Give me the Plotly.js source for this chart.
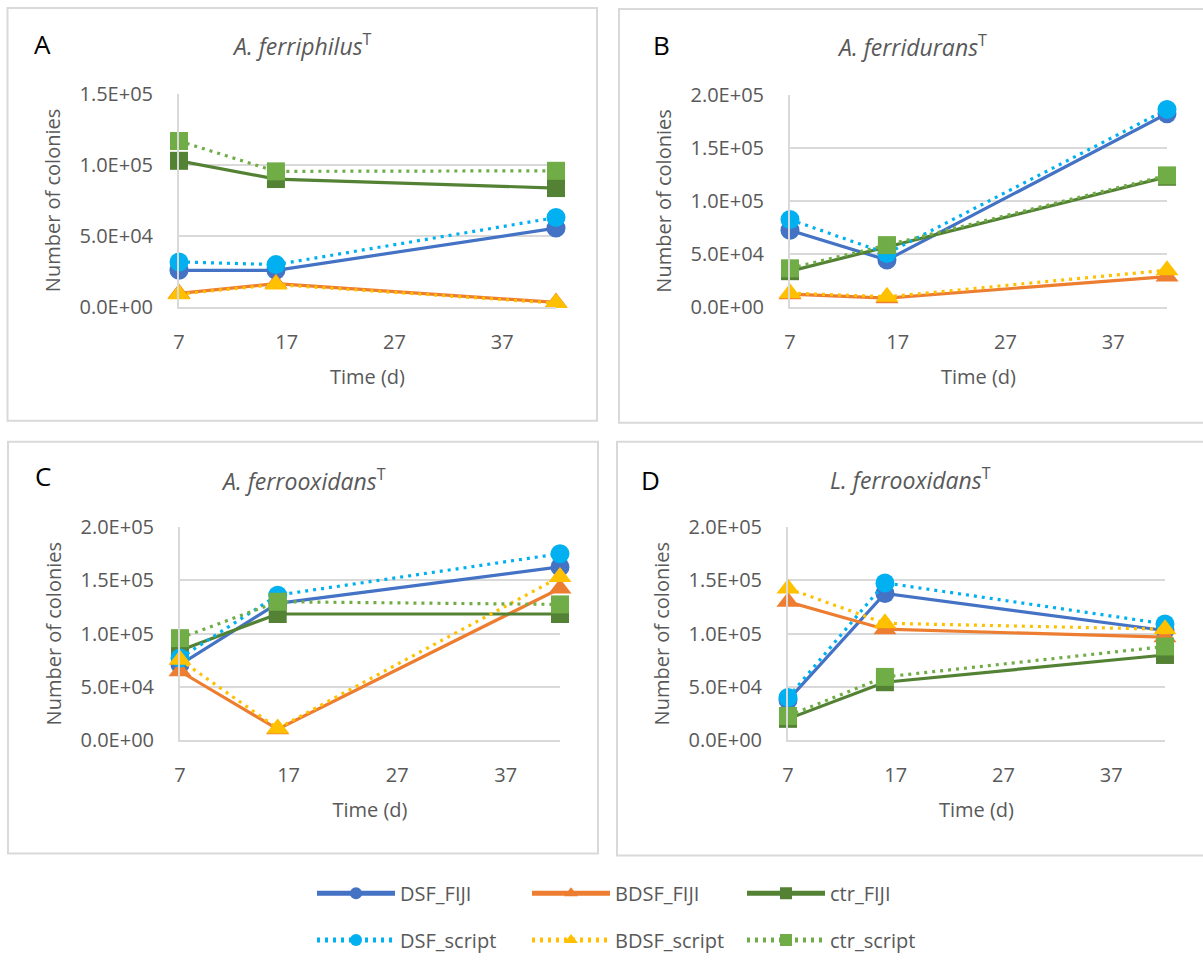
<!DOCTYPE html>
<html><head><meta charset="utf-8">
<script src="https://cdn.plot.ly/plotly-3.0.1.min.js"></script>
<style>body{margin:0;background:#fff}#chart{width:1203px;height:960px}</style>
</head><body><div id="chart"></div>
<script>
// ---- data ----
const days = [7, 16, 42];
const seriesNames = ['DSF_FIJI', 'BDSF_FIJI', 'ctr_FIJI', 'DSF_script', 'BDSF_script', 'ctr_script'];
const panelLetters = ['A', 'B', 'C', 'D'];
const panelSpecies = ['A. ferriphilus', 'A. ferridurans', 'A. ferrooxidans', 'L. ferrooxidans'];
const xTitle = 'Time (d)';
const yTitle = 'Number of colonies';
const xTickVals = [7, 17, 27, 37];
const yTickValsA = [0, 50000, 100000, 150000];
const yTickTextA = ['0.0E+00', '5.0E+04', '1.0E+05', '1.5E+05'];
const yTickVals = [0, 50000, 100000, 150000, 200000];
const yTickText = ['0.0E+00', '5.0E+04', '1.0E+05', '1.5E+05', '2.0E+05'];

// Panel A: A. ferriphilus
const A_DSF_FIJI = [26000, 26000, 55600];
const A_BDSF_FIJI = [9800, 16700, 3500];
const A_ctr_FIJI = [102800, 90000, 83700];
const A_DSF_script = [31900, 30000, 63000];
const A_BDSF_script = [9300, 16000, 3000];
const A_ctr_script = [116700, 95400, 95800];
// Panel B: A. ferridurans
const B_DSF_FIJI = [72500, 44500, 182000];
const B_BDSF_FIJI = [12400, 8700, 29000];
const B_ctr_FIJI = [34000, 57000, 122700];
const B_DSF_script = [82500, 50700, 186000];
const B_BDSF_script = [13400, 10000, 35000];
const B_ctr_script = [36700, 58500, 124000];
// Panel C: A. ferrooxidans
const C_DSF_FIJI = [70900, 128500, 162700];
const C_BDSF_FIJI = [64700, 10300, 142500];
const C_ctr_FIJI = [84300, 118500, 118500];
const C_DSF_script = [77100, 136200, 175100];
const C_BDSF_script = [75600, 11000, 153300];
const C_ctr_script = [95800, 130000, 127500];
// Panel D: L. ferrooxidans
const D_DSF_FIJI = [37600, 137800, 103000];
const D_BDSF_FIJI = [130000, 104200, 96700];
const D_ctr_FIJI = [20000, 54400, 80000];
const D_DSF_script = [40000, 147700, 109200];
const D_BDSF_script = [142500, 109800, 104200];
const D_ctr_script = [22700, 59400, 88000];

const panelData = [
  [A_DSF_FIJI, A_BDSF_FIJI, A_ctr_FIJI, A_DSF_script, A_BDSF_script, A_ctr_script],
  [B_DSF_FIJI, B_BDSF_FIJI, B_ctr_FIJI, B_DSF_script, B_BDSF_script, B_ctr_script],
  [C_DSF_FIJI, C_BDSF_FIJI, C_ctr_FIJI, C_DSF_script, C_BDSF_script, C_ctr_script],
  [D_DSF_FIJI, D_BDSF_FIJI, D_ctr_FIJI, D_DSF_script, D_BDSF_script, D_ctr_script]
];

// ---- styles ----
const W = 1203, H = 960;
const px = x => x / W;
const py = y => 1 - y / H;
const FONT = 'Open Sans, Noto Sans, sans-serif';
const GRAY = '#595959';
const colors = ['#4472C4', '#ED7D31', '#548235', '#00B0F0', '#FFC000', '#70AD47'];
const symbols = ['circle', 'triangle-up', 'square', 'circle', 'triangle-up', 'square'];
const msizes = [19, 20, 18, 19, 20, 18];
const dashes = ['solid', 'solid', 'solid', '3px,5px', '3px,5px', '3px,5px'];

// plot areas in px: [left, right, top, bottom]
const boxes = [
  [179, 556, 94, 309],
  [790, 1167, 95, 309],
  [180, 560, 530, 744],
  [788, 1165, 530, 744]
];
const frames = [
  [7.5, 597, 8, 423],
  [619, 1210, 9, 425],
  [8, 598, 444, 858],
  [617, 1210, 444, 860]
];
const letterPos = [[42, 44], [661, 45], [43, 478], [650, 483]];
const titlePos = [[302, 45], [912, 46], [303, 483], [911, 482]];

const legendCommon = {
  orientation: 'h', xanchor: 'left', yanchor: 'middle',
  font: {family: FONT, size: 20, color: GRAY}, itemwidth: 78, entrywidth: 122,
  itemsizing: 'constant', bgcolor: 'rgba(0,0,0,0)'
};

const traces = [];
const layout = {
  width: W, height: H,
  margin: {l: 0, r: 0, t: 0, b: 0},
  paper_bgcolor: '#fff', plot_bgcolor: '#fff',
  font: {family: FONT, color: GRAY, size: 20},
  hovermode: false,
  shapes: [], annotations: [],
  legend: Object.assign({x: px(312), y: py(898)}, legendCommon),
  legend2: Object.assign({x: px(312), y: py(945)}, legendCommon)
};

panelData.forEach((series, p) => {
  const sfx = p === 0 ? '' : String(p + 1);
  const [l, r, t, b] = boxes[p];
  series.forEach((vals, s) => {
    traces.push({
      type: 'scatter', mode: 'lines+markers',
      x: days, y: vals, name: seriesNames[s],
      xaxis: 'x' + sfx, yaxis: 'y' + sfx,
      line: {color: colors[s], width: 3.2, dash: dashes[s]},
      marker: {color: colors[s], symbol: symbols[s], size: msizes[s]},
      cliponaxis: false,
      showlegend: p === 0,
      legend: s < 3 ? 'legend' : 'legend2'
    });
  });
  const isA = p === 0;
  layout['xaxis' + sfx] = {
    domain: [px(l), px(r)], anchor: 'y' + sfx, range: [7, 42],
    tickvals: xTickVals, ticks: '', showgrid: false, zeroline: false,
    showline: true, linecolor: '#d9d9d9', linewidth: 2,
    tickfont: {family: FONT, size: 20, color: GRAY}, ticklabelstandoff: 16,
    title: {text: xTitle, font: {family: FONT, size: 20, color: GRAY}, standoff: 16},
    fixedrange: true
  };
  layout['yaxis' + sfx] = {
    domain: [py(b), py(t)], anchor: 'x' + sfx, range: isA ? [0, 150000] : [0, 200000],
    tickvals: isA ? yTickValsA : yTickVals, ticktext: isA ? yTickTextA : yTickText,
    ticks: '', showgrid: true, gridcolor: '#d9d9d9', gridwidth: 2, zeroline: false,
    showline: true, linecolor: '#d9d9d9', linewidth: 2,
    tickfont: {family: FONT, size: 20, color: GRAY}, ticklabelstandoff: 20,
    title: {text: yTitle, font: {family: FONT, size: 20, color: GRAY}, standoff: 13},
    fixedrange: true
  };
  const [fl, fr, ft, fb] = frames[p];
  layout.shapes.push({type: 'rect', xref: 'paper', yref: 'paper',
    x0: px(fl), x1: px(fr), y0: py(fb), y1: py(ft), line: {color: '#d9d9d9', width: 2}, layer: 'below'});
  layout.annotations.push({xref: 'paper', yref: 'paper', x: px(letterPos[p][0]), y: py(letterPos[p][1]),
    text: panelLetters[p], showarrow: false, xanchor: 'center', yanchor: 'middle',
    font: {family: FONT, size: 26, color: '#000'}});
  layout.annotations.push({xref: 'paper', yref: 'paper', x: px(titlePos[p][0]), y: py(titlePos[p][1]),
    text: '<i>' + panelSpecies[p] + '</i><sup>T</sup>', showarrow: false, xanchor: 'center', yanchor: 'middle',
    font: {family: FONT, size: 23, color: GRAY}});
});

Plotly.newPlot('chart', traces, layout, {staticPlot: true, displayModeBar: false});
</script>
</body></html>
